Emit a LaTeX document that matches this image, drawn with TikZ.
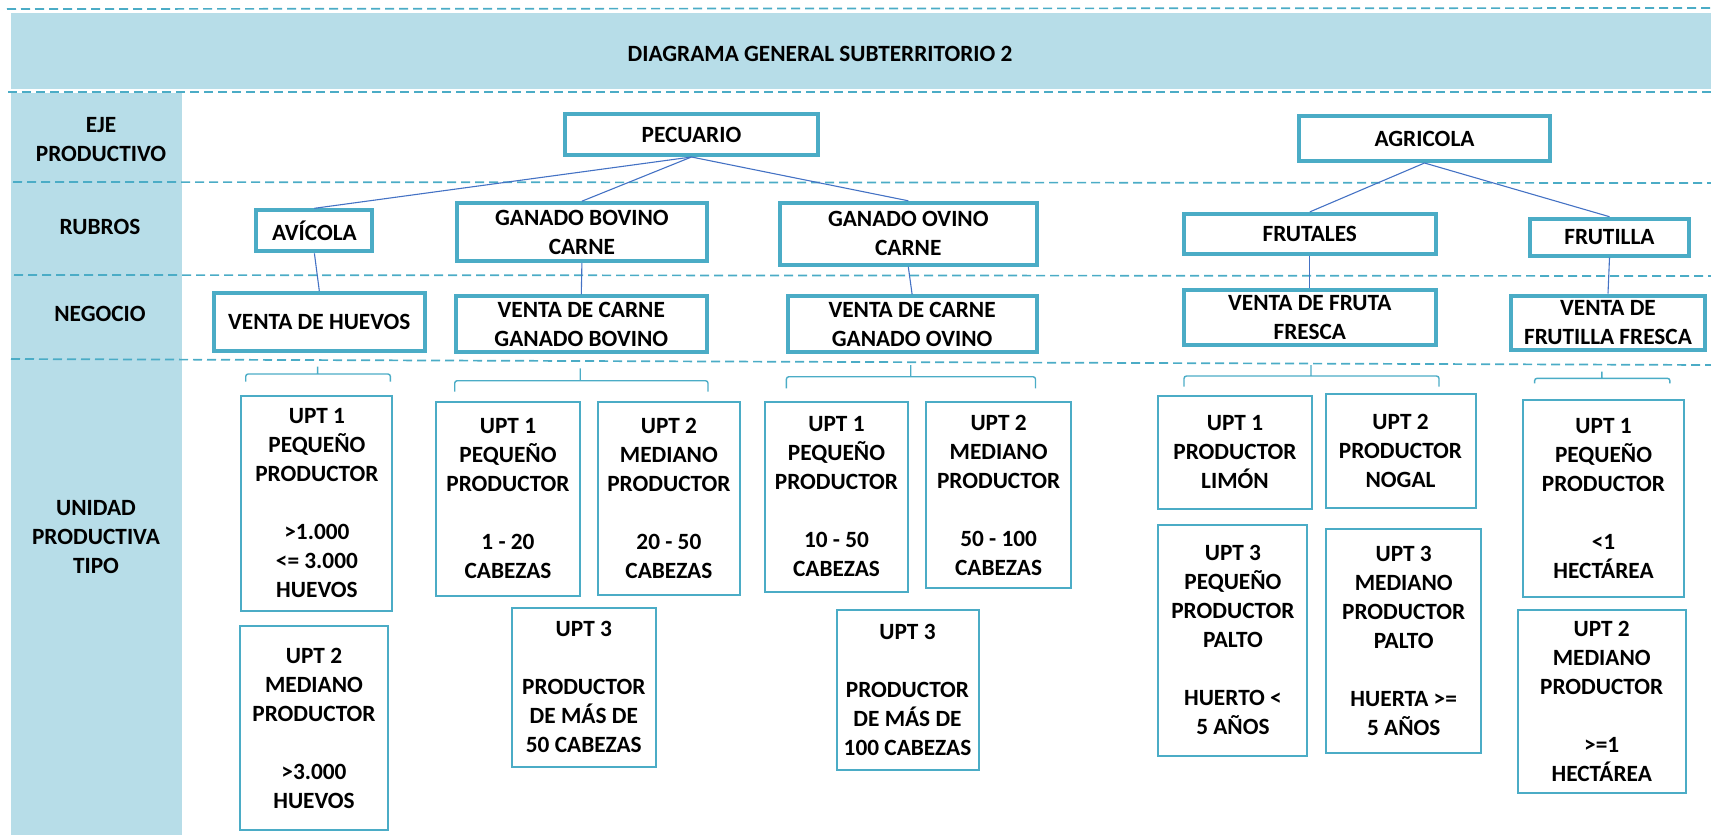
\documentclass[tikz,border=0pt]{standalone}
\usepackage{fontspec}
\setmainfont{Carlito}
\usetikzlibrary{arrows.meta,calc,positioning}
\definecolor{aqua}{HTML}{4BACC6}
\definecolor{aqualite}{HTML}{B7DDE8}
\definecolor{linkblue}{HTML}{4472C4}

\begin{document}
\begin{tikzpicture}[x=1pt,y=-1pt,
    every node/.style={font=\fontsize{23.3}{29}\selectfont\bfseries,align=center},
    headbox/.style={draw=aqua,line width=4pt,fill=white,inner sep=1pt},
    uptbox/.style={draw=aqua,line width=2pt,fill=white,inner sep=1pt},
    link/.style={draw=linkblue,line width=1.1pt},
    rowline/.style={draw=aqua,line width=1.7pt,dash pattern=on 9pt off 5pt},
    bracket/.style={draw=aqua,line width=1.4pt,rounded corners=2.5pt}]
  \useasboundingbox (0,0) rectangle (1711,835);
  % bands
  \fill[aqualite] (11,13) rectangle (1711,89);
  \fill[aqualite] (11,93) rectangle (182,835);
  % row separators
  \draw[rowline] (7,9) -- (1711,8);
  \draw[rowline] (8,92) -- (1711,92);
  \draw[rowline] (13,182) -- (1711,183);
  \draw[rowline] (14,275) -- (1711,276);
  \draw[rowline] (11,359) -- (1711,365);

  % row labels
  \node (titulo) at (820,53.5) {DIAGRAMA GENERAL SUBTERRITORIO 2};
  \node (eje) at (101,140) {EJE\\PRODUCTIVO};
  \node (rubros) at (100,227) {RUBROS};
  \node (negocio) at (100,314) {NEGOCIO};
  \node (unidad) at (96,537) {UNIDAD\\PRODUCTIVA\\TIPO};

  % eje, rubros, negocio
  \node[headbox,minimum width=253pt,minimum height=41pt] (pecuario) at (691.5,134.5) {PECUARIO};
  \node[headbox,minimum width=251pt,minimum height=45pt] (agricola) at (1424.5,138.5) {AGRICOLA};
  \node[headbox,minimum width=116pt,minimum height=41pt] (avicola) at (314.4,230.8) {AVÍCOLA};
  \node[headbox,minimum width=250pt,minimum height=58pt] (bovino) at (581.9,232.2) {GANADO BOVINO\\CARNE};
  \node[headbox,minimum width=257pt,minimum height=62pt] (ovino) at (908.3,233.8) {GANADO OVINO\\CARNE};
  \node[headbox,minimum width=252pt,minimum height=40pt] (frutales) at (1309.8,233.9) {FRUTALES};
  \node[headbox,minimum width=159pt,minimum height=37pt] (frutilla) at (1609.5,237.2) {FRUTILLA};
  \node[headbox,minimum width=211pt,minimum height=58pt] (huevos) at (319.3,321.8) {VENTA DE HUEVOS};
  \node[headbox,minimum width=251pt,minimum height=56pt] (carnebov) at (581.3,324.3) {VENTA DE CARNE\\GANADO BOVINO};
  \node[headbox,minimum width=249pt,minimum height=56pt] (carneov) at (912.1,324.3) {VENTA DE CARNE\\GANADO OVINO};
  \node[headbox,minimum width=252pt,minimum height=55pt] (fruta) at (1309.8,317.2) {VENTA DE FRUTA\\FRESCA};
  \node[headbox,minimum width=194pt,minimum height=54pt] (frutillaf) at (1608,322.5) {VENTA DE\\FRUTILLA FRESCA};

  \foreach \a/\b in {pecuario/avicola,pecuario/bovino,pecuario/ovino,
      agricola/frutales,agricola/frutilla,avicola/huevos,bovino/carnebov,
      ovino/carneov,frutales/fruta,frutilla/frutillaf}
    \draw[link] (\a.south) -- (\b.north);

  % brackets over the UPT groups
  \foreach \l/\r/\c/\h/\f/\t in {245.7/390.4/317.6/374/381.7/366.7,
      454.7/708/580.2/380.7/391.7/368.3,786.4/1035.5/910.7/376.7/388.3/365,
      1184/1439/1311/376/386.7/365,1534.6/1669.9/1601.9/378.3/383.3/371.7}
    \draw[bracket] (\l,\f) -- (\l,\h) -- (\r,\h) -- (\r,\f) (\c,\h) -- (\c,\t);

  % unidades productivas tipo
  \node[uptbox,minimum width=151pt,minimum height=215pt] (av1) at (316.9,503.4)
    {UPT 1\\PEQUEÑO\\PRODUCTOR\\[29pt]>1.000\\<= 3.000\\HUEVOS};
  \node[uptbox,minimum width=148pt,minimum height=204pt] (av2) at (314,728)
    {UPT 2\\MEDIANO\\PRODUCTOR\\[29pt]>3.000\\HUEVOS};
  \node[uptbox,minimum width=144pt,minimum height=194pt] (bov1) at (508,498.9)
    {UPT 1\\PEQUEÑO\\PRODUCTOR\\[29pt]1 - 20\\CABEZAS};
  \node[uptbox,minimum width=142pt,minimum height=193pt] (bov2) at (668.9,498.4)
    {UPT 2\\MEDIANO\\PRODUCTOR\\[29pt]20 - 50\\CABEZAS};
  \node[uptbox,minimum width=144pt,minimum height=159pt] (bov3) at (583.8,687.2)
    {UPT 3\\[29pt]PRODUCTOR\\DE MÁS DE\\50 CABEZAS};
  \node[uptbox,minimum width=143pt,minimum height=190pt] (ov1) at (836.5,496.9)
    {UPT 1\\PEQUEÑO\\PRODUCTOR\\[29pt]10 - 50\\CABEZAS};
  \node[uptbox,minimum width=145pt,minimum height=186pt] (ov2) at (998.6,495.2)
    {UPT 2\\MEDIANO\\PRODUCTOR\\[29pt]50 - 100\\CABEZAS};
  \node[uptbox,minimum width=142pt,minimum height=160pt] (ov3) at (907.5,689.9)
    {UPT 3\\[29pt]PRODUCTOR\\DE MÁS DE\\100 CABEZAS};
  \node[uptbox,minimum width=154pt,minimum height=113pt] (fr1) at (1235,452.5)
    {UPT 1\\PRODUCTOR\\LIMÓN};
  \node[uptbox,minimum width=150pt,minimum height=114pt] (fr2) at (1400.5,451.2)
    {UPT 2\\PRODUCTOR\\NOGAL};
  \node[uptbox,minimum width=149pt,minimum height=231pt] (fr3) at (1232.9,640.4)
    {UPT 3\\PEQUEÑO\\PRODUCTOR\\PALTO\\[29pt]HUERTO <\\5 AÑOS};
  \node[uptbox,minimum width=155pt,minimum height=224pt] (fr4) at (1403.7,641.2)
    {UPT 3\\MEDIANO\\PRODUCTOR\\PALTO\\[29pt]HUERTA >=\\5 AÑOS};
  \node[uptbox,minimum width=161pt,minimum height=197pt] (fl1) at (1603.5,498.4)
    {UPT 1\\PEQUEÑO\\PRODUCTOR\\[29pt]<1\\HECTÁREA};
  \node[uptbox,minimum width=168pt,minimum height=183pt] (fl2) at (1601.7,701.7)
    {UPT 2\\MEDIANO\\PRODUCTOR\\[29pt]>=1\\HECTÁREA};
\end{tikzpicture}
\end{document}
